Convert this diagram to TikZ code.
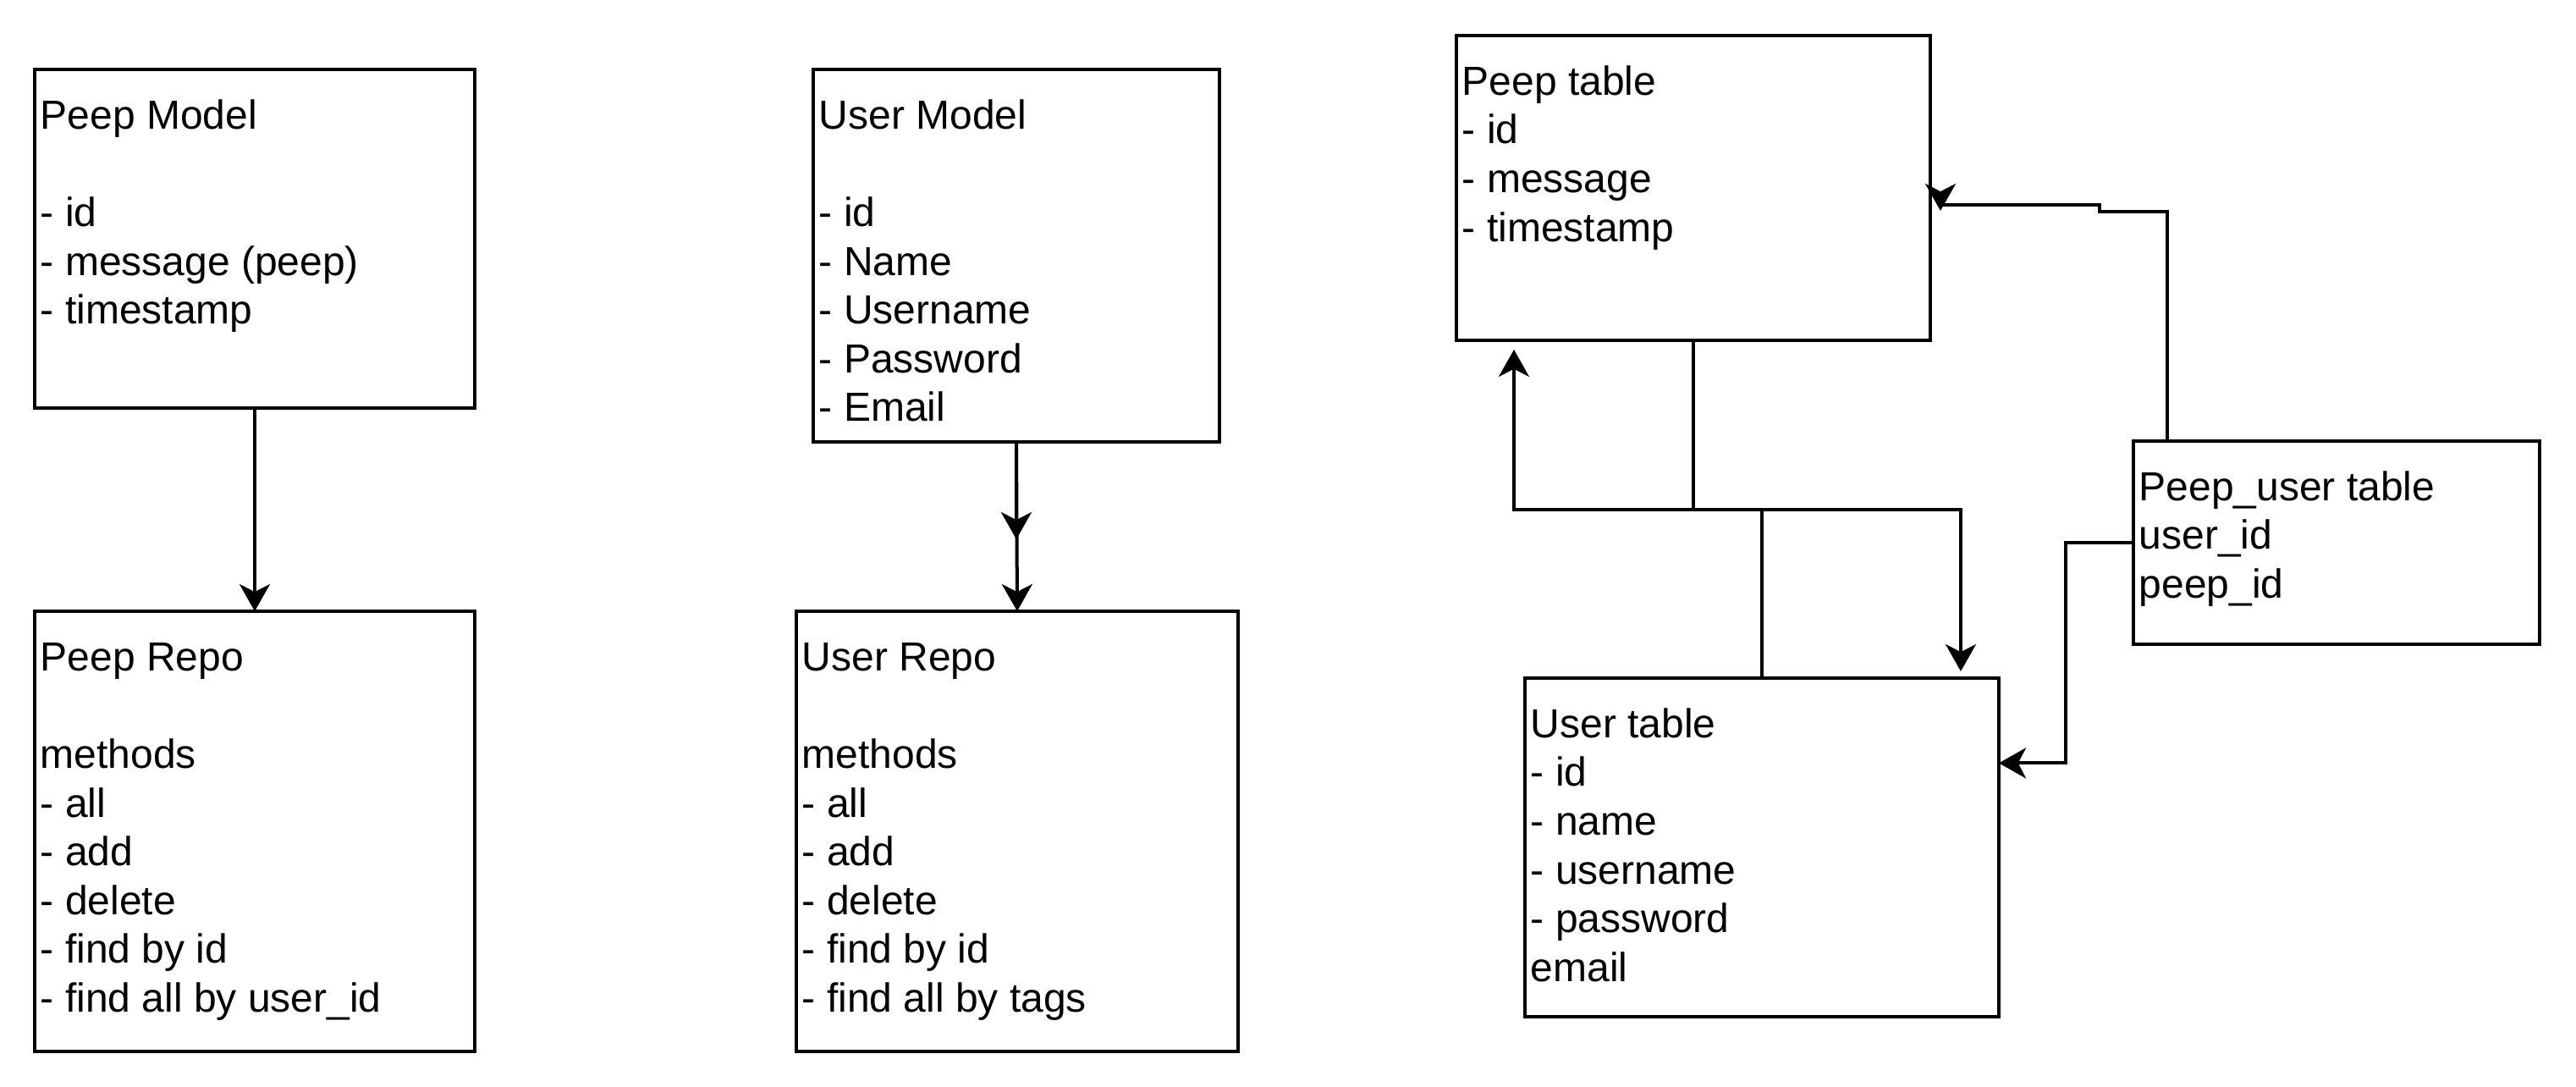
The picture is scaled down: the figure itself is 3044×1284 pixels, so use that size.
\documentclass[tikz,border=0pt]{standalone}
\usepackage{fontspec}
\setmainfont{Liberation Sans}
\usetikzlibrary{arrows.meta}

\tikzset{
  box/.style={draw, line width=1pt, anchor=north west, inner sep=0pt, outer sep=0pt},
  boxtext/.style={anchor=north west, align=left, inner sep=0pt, font=\fontsize{12}{14.4}\selectfont},
  conn/.style={line width=1pt, -{Stealth[length=8pt,width=9pt,inset=2.3pt]}}
}

\begin{document}
\begin{tikzpicture}[x=0.25pt, y=-0.25pt]
            \fill[white] (0,0) rectangle (3044,1284);
            % models and repos
            \node[box, minimum width=130pt, minimum height=100pt] (pm) at (41,82) {};
            \node[boxtext] (pmtext) at ([xshift=1.5pt,yshift=-7.3pt]pm.north west) {\strut Peep Model\\\strut\\\strut - id\\\strut - message (peep)\\\strut - timestamp};
            \node[box, minimum width=130pt, minimum height=130pt] (pr) at (41,722) {};
            \node[boxtext] (prtext) at ([xshift=1.5pt,yshift=-7.3pt]pr.north west) {\strut Peep Repo\\\strut\\\strut methods\\\strut - all\\\strut - add\\\strut - delete\\\strut - find by id\\\strut - find all by user\_id};
            \node[box, minimum width=120pt, minimum height=110pt] (um) at (961,82) {};
            \node[boxtext] (umtext) at ([xshift=1.5pt,yshift=-7.3pt]um.north west) {\strut User Model\\\strut\\\strut - id\\\strut - Name\\\strut - Username\\\strut - Password\\\strut - Email};
            \node[box, minimum width=130.5pt, minimum height=130pt] (ur) at (941,722) {};
            \node[boxtext] (urtext) at ([xshift=1.5pt,yshift=-7.3pt]ur.north west) {\strut User Repo\\\strut\\\strut methods\\\strut - all\\\strut - add\\\strut - delete\\\strut - find by id\\\strut - find all by tags};
            % tables
            \node[box, minimum width=140pt, minimum height=90pt] (pt) at (1721,42) {};
            \node[boxtext] (pttext) at ([xshift=1.5pt,yshift=-7.3pt]pt.north west) {\strut Peep table\\\strut - id\\\strut - message\\\strut - timestamp};
            \node[box, minimum width=140pt, minimum height=100pt] (ut) at (1802,801) {};
            \node[boxtext] (uttext) at ([xshift=1.5pt,yshift=-7.3pt]ut.north west) {\strut User table\\\strut - id\\\strut - name\\\strut - username\\\strut - password\\\strut email};
            \node[box, minimum width=120pt, minimum height=60pt] (pu) at (2521,521) {};
            \node[boxtext] (putext) at ([xshift=1.5pt,yshift=-7.3pt]pu.north west) {\strut Peep\_user table\\\strut user\_id\\\strut peep\_id};
            % connectors
            \draw[conn] (pm.south) -- (pr.north);
            \draw[conn] (um.south) -- (ur.north);
            \draw[conn] (um.south) -- ++(0,115);
            \draw[conn] (pt.south) -- ++(0,200) -| ([xshift=-11.25pt,yshift=2pt]ut.north east);
            \draw[conn] (ut.north) -- ++(0,-199) -| ([xshift=17pt,yshift=-2.75pt]pt.south west);
            \draw[conn] ([xshift=10pt]pu.north west) -- ++(0,-271) -- ++(-80,0) -- ++(0,-8) -- ++(-188,0) -- ++(0,7);
            \draw[conn] (pu.west) -- ++(-80,0) |- ([yshift=24.9pt]ut.east);
        \end{tikzpicture}
\end{document}
